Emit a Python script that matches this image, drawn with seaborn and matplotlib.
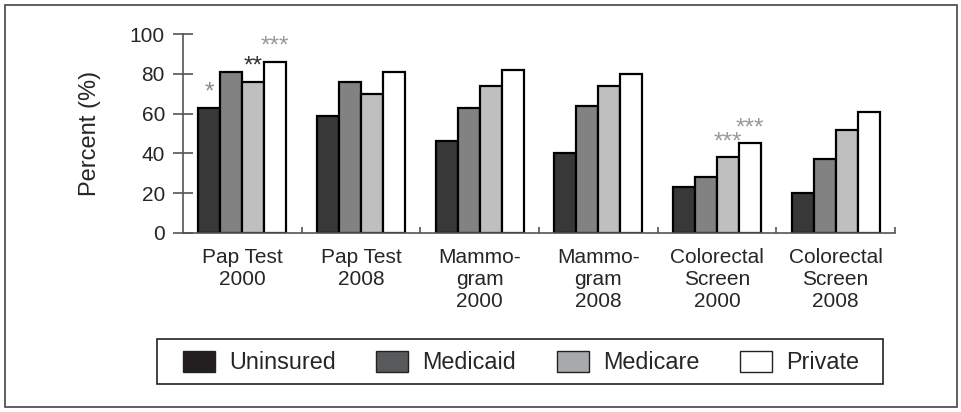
import pandas as pd
import seaborn as sns
import matplotlib.pyplot as plt
from matplotlib.patches import Patch, Rectangle
from matplotlib.ticker import FixedLocator

screens = [
    "Pap Test\n2000",
    "Pap Test\n2008",
    "Mammo-\ngram\n2000",
    "Mammo-\ngram\n2008",
    "Colorectal\nScreen\n2000",
    "Colorectal\nScreen\n2008",
]
groups = ["Uninsured", "Medicaid", "Medicare", "Private"]

uninsured = [63, 59, 46, 40, 23, 20]
medicaid = [81, 76, 63, 64, 28, 37]
medicare = [76, 70, 74, 74, 38, 52]
private = [86, 81, 82, 80, 45, 61]

# significance marks: (screen index, group, stars, colour)
star_screen = [0, 0, 0, 4, 4]
star_group = ["Uninsured", "Medicare", "Private", "Medicare", "Private"]
star_text = ["*", "**", "***", "***", "***"]
star_color = ["#8a8a8a", "#333333", "#9a9a9a", "#9a9a9a", "#9a9a9a"]

bar_colors = ["#383838", "#828282", "#bfbfbf", "#ffffff"]
legend_colors = ["#231f20", "#58595b", "#a7a9ac", "#ffffff"]

sns.set_style("white")
plt.rcParams["font.family"] = ["Liberation Sans", "DejaVu Sans"]

df = pd.DataFrame({
    "screen": screens * 4,
    "group": [g for g in groups for _ in screens],
    "percent": uninsured + medicaid + medicare + private,
})

fig = plt.figure(figsize=(9.62, 4.12), dpi=100)
ax = fig.add_axes([183 / 962, 1 - 233 / 412, 712 / 962, 199 / 412])

sns.barplot(
    data=df,
    x="screen",
    y="percent",
    hue="group",
    hue_order=groups,
    palette=bar_colors,
    edgecolor="black",
    linewidth=1.6,
    width=0.74,
    legend=False,
    ax=ax,
)

# stars above bars
values = {"Uninsured": uninsured, "Medicaid": medicaid,
          "Medicare": medicare, "Private": private}
for i, g, s, c in zip(star_screen, star_group, star_text, star_color):
    patch = ax.containers[groups.index(g)][i]
    xc = patch.get_x() + patch.get_width() / 2
    ax.text(xc, values[g][i] + 4.5, s, ha="center", va="baseline",
            fontsize=17.5, color=c)

ax.set_xlim(-0.5, 5.5)
ax.set_ylim(0, 100)
ax.set_yticks([0, 20, 40, 60, 80, 100])
ax.set_xlabel("")
ax.set_ylabel("Percent (%)", fontsize=17, labelpad=21)

for side in ["top", "right"]:
    ax.spines[side].set_visible(False)
for side in ["left", "bottom"]:
    ax.spines[side].set_color("#555555")
    ax.spines[side].set_linewidth(1.2)

ax.tick_params(axis="y", direction="inout", length=14, width=1.2,
               color="#555555", labelsize=15, pad=6, left=True)
ax.tick_params(axis="x", which="major", length=0, labelsize=15, pad=11)
ax.xaxis.set_minor_locator(FixedLocator([0.5, 1.5, 2.5, 3.5, 4.5, 5.5]))
ax.tick_params(axis="x", which="minor", direction="in", length=4,
               width=1.2, color="#555555", bottom=True)
for lab in ax.get_xticklabels():
    lab.set_linespacing(1.2)

handles = [Patch(facecolor=c, edgecolor="#222222", linewidth=1)
           for c in legend_colors]
leg = fig.legend(
    handles, groups,
    loc="center",
    bbox_to_anchor=(521 / 962, 1 - 362.5 / 412),
    ncol=4,
    fontsize=16.8,
    frameon=False,
    handlelength=1.37,
    handleheight=1.0,
    handletextpad=0.6,
    columnspacing=1.75,
    borderpad=0,
    borderaxespad=0,
)

# legend frame and outer figure border
fig.patches.append(Rectangle((157 / 962, 1 - 384 / 412), 726 / 962, 45 / 412,
                             transform=fig.transFigure, fill=False,
                             edgecolor="#222222", linewidth=1.2))
fig.patches.append(Rectangle((5 / 962, 5 / 412), 952 / 962, 402 / 412,
                             transform=fig.transFigure, fill=False,
                             edgecolor="#444444", linewidth=1.2))

fig.savefig("out.png", dpi=100)
